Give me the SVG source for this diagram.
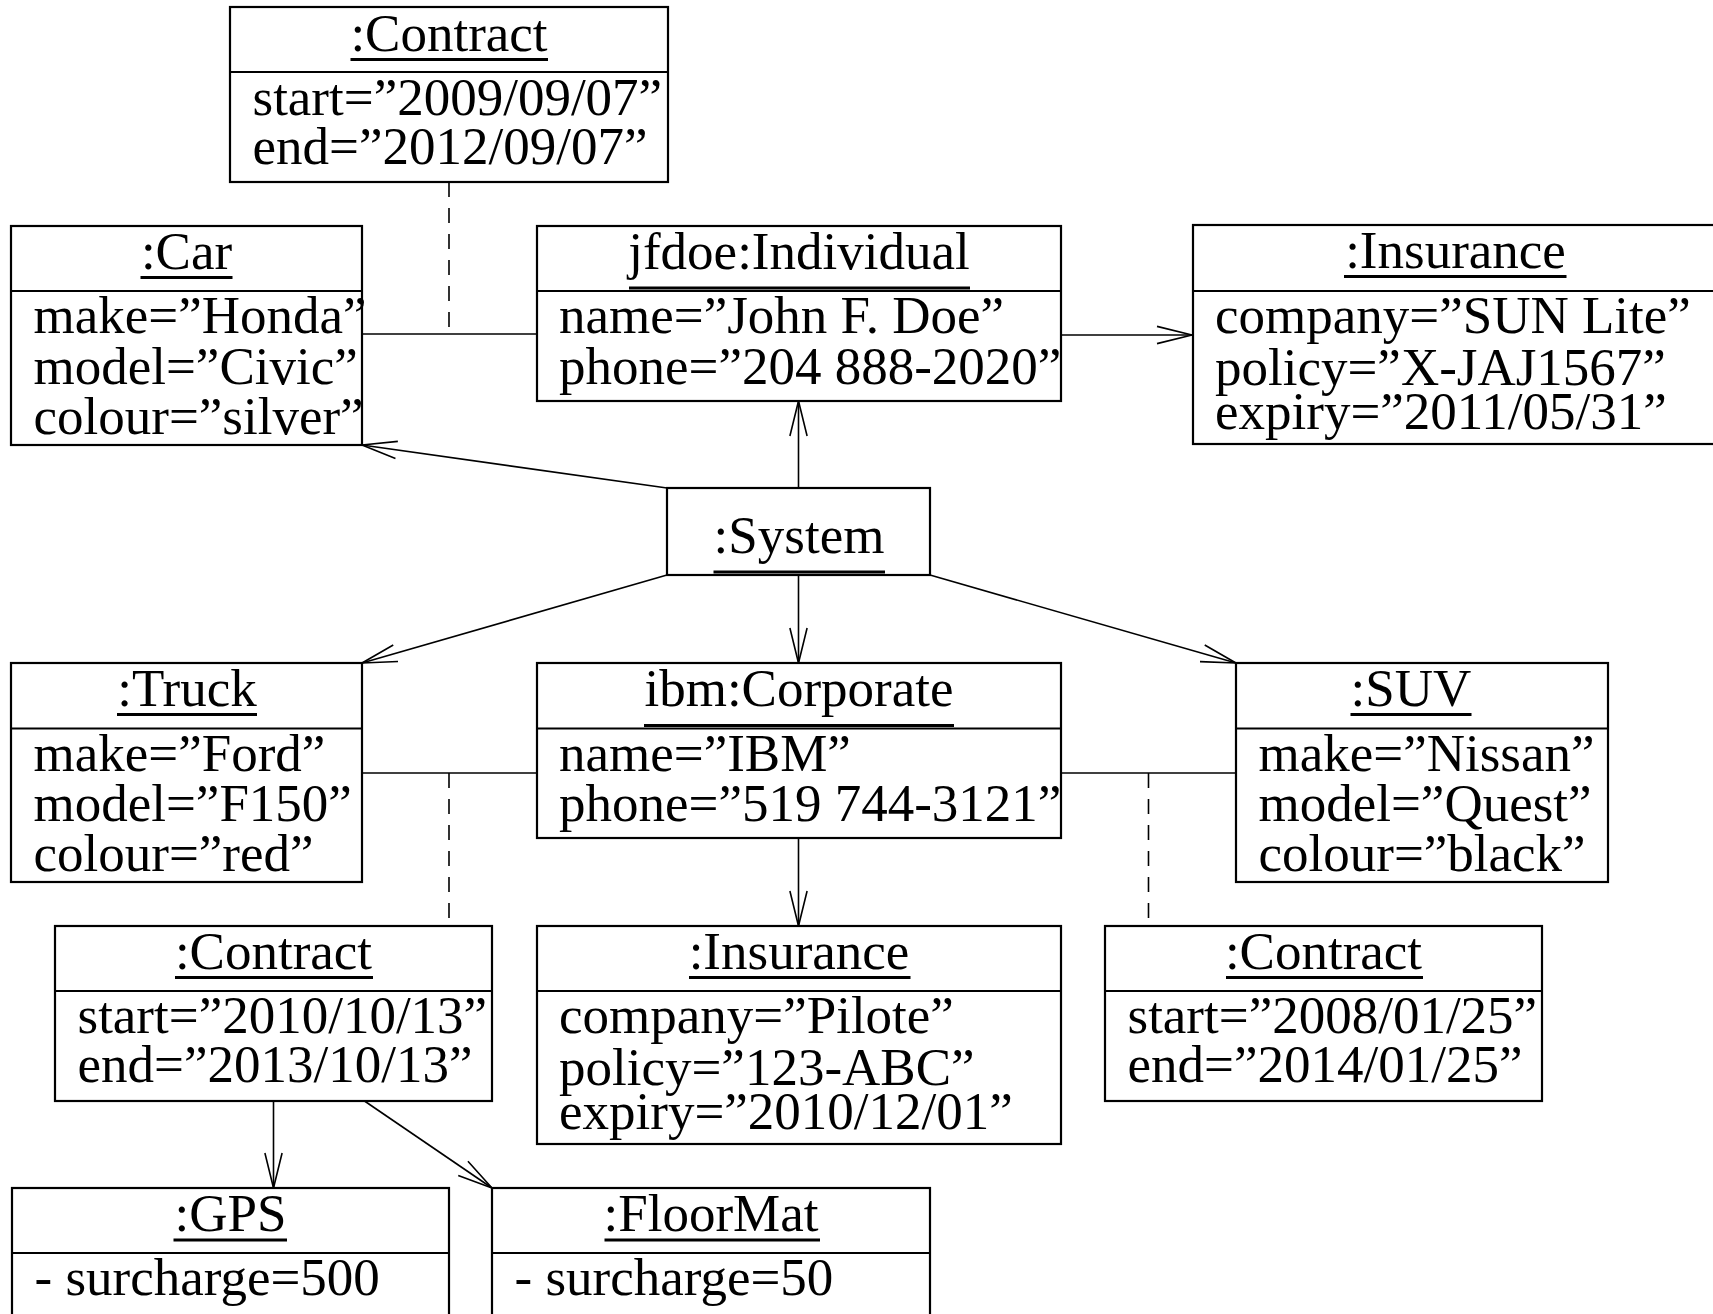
<svg xmlns="http://www.w3.org/2000/svg" width="1713" height="1314" viewBox="0 0 1713 1314">
  <style>
    .box { fill: #fff; stroke: #000; stroke-width: 2.2; }
    .div { stroke: #000; stroke-width: 2.2; }
    .ul { stroke: #000; stroke-width: 3.2; }
    .t { font-family: "Liberation Serif", "Times New Roman", serif; font-size: 53px; fill: #000; }
    .c { text-anchor: middle; }
    .ln { stroke: #000; stroke-width: 1.6; fill: none; }
    .dash { stroke: #000; stroke-width: 1.6; fill: none; stroke-dasharray: 15 11; }
    .arr { stroke: #000; stroke-width: 1.6; fill: none; marker-end: url(#open); }
  </style>
  <defs>
    <marker id="open" viewBox="-40 -12 44 24" refX="0" refY="0" markerWidth="44" markerHeight="24" markerUnits="userSpaceOnUse" orient="auto">
      <path d="M-35,-8.6 L0,0 L-35,8.6" fill="none" stroke="#000" stroke-width="1.6"/>
    </marker>
  </defs>
  <rect width="1713" height="1314" fill="#fff"/>

  <!-- links between objects -->
  <g id="connectors">
    <line class="ln" x1="362" y1="334" x2="537" y2="334"/>
    <line class="dash" x1="449" y1="182" x2="449" y2="334"/>
    <line class="arr" x1="1061" y1="335" x2="1192" y2="335"/>
    <line class="arr" x1="798.5" y1="488" x2="798.5" y2="401"/>
    <line class="arr" x1="667" y1="488" x2="362" y2="445"/>
    <line class="arr" x1="667" y1="575" x2="362" y2="663"/>
    <line class="arr" x1="798.5" y1="575" x2="798.5" y2="663"/>
    <line class="arr" x1="930" y1="575" x2="1236" y2="663"/>
    <line class="ln" x1="362" y1="773" x2="537" y2="773"/>
    <line class="dash" x1="449" y1="773" x2="449" y2="926"/>
    <line class="ln" x1="1061" y1="773" x2="1236" y2="773"/>
    <line class="dash" x1="1148.5" y1="773" x2="1148.5" y2="926"/>
    <line class="arr" x1="798.5" y1="838" x2="798.5" y2="926"/>
    <line class="arr" x1="273.5" y1="1101" x2="273.5" y2="1188"/>
    <line class="arr" x1="364.5" y1="1101" x2="492" y2="1188"/>
  </g>

  <g id="contract-a">
    <rect class="box" x="230" y="7" width="438" height="175"/>
    <line class="div" x1="230" y1="72" x2="668" y2="72"/>
    <text class="t c" x="449" y="50.5">:Contract</text>
    <line class="ul" x1="350.5" y1="59.5" x2="548" y2="59.5"/>
    <text class="t" x="252.5" y="115">start=”2009/09/07”</text>
    <text class="t" x="252.5" y="164">end=”2012/09/07”</text>
  </g>

  <g id="car">
    <rect class="box" x="11" y="226" width="351" height="219"/>
    <line class="div" x1="11" y1="291" x2="362" y2="291"/>
    <text class="t c" x="186.5" y="268.5">:Car</text>
    <line class="ul" x1="140.5" y1="277.5" x2="232.5" y2="277.5"/>
    <text class="t" x="33.5" y="333">make=”Honda”</text>
    <text class="t" x="33.5" y="383.5">model=”Civic”</text>
    <text class="t" x="33.5" y="434">colour=”silver”</text>
  </g>

  <g id="individual">
    <rect class="box" x="537" y="226" width="524" height="175"/>
    <line class="div" x1="537" y1="291" x2="1061" y2="291"/>
    <text class="t c" x="799" y="268.5">jfdoe:Individual</text>
    <line class="ul" x1="629" y1="288" x2="970" y2="288"/>
    <text class="t" x="559" y="333">name=”John F. Doe”</text>
    <text class="t" x="559" y="384">phone=”204 888-2020”</text>
  </g>

  <g id="insurance-a">
    <rect class="box" x="1193" y="225" width="540" height="219"/>
    <line class="div" x1="1193" y1="291" x2="1733" y2="291"/>
    <text class="t c" x="1455.5" y="267.5">:Insurance</text>
    <line class="ul" x1="1344" y1="276.5" x2="1566.5" y2="276.5"/>
    <text class="t" x="1215" y="333">company=”SUN Lite”</text>
    <text class="t" x="1215" y="384.5">policy=”X-JAJ1567”</text>
    <text class="t" x="1215" y="428.5">expiry=”2011/05/31”</text>
  </g>

  <g id="system">
    <rect class="box" x="667" y="488" width="263" height="87"/>
    <text class="t c" x="799" y="553">:System</text>
    <line class="ul" x1="713.5" y1="572" x2="885" y2="572"/>
  </g>

  <g id="truck">
    <rect class="box" x="11" y="663" width="351" height="219"/>
    <line class="div" x1="11" y1="728.5" x2="362" y2="728.5"/>
    <text class="t c" x="187" y="705.5">:Truck</text>
    <line class="ul" x1="117" y1="714.5" x2="257" y2="714.5"/>
    <text class="t" x="33.5" y="770.5">make=”Ford”</text>
    <text class="t" x="33.5" y="821">model=”F150”</text>
    <text class="t" x="33.5" y="871">colour=”red”</text>
  </g>

  <g id="corporate">
    <rect class="box" x="537" y="663" width="524" height="175"/>
    <line class="div" x1="537" y1="728.5" x2="1061" y2="728.5"/>
    <text class="t c" x="799" y="705.5">ibm:Corporate</text>
    <line class="ul" x1="644" y1="725.5" x2="954" y2="725.5"/>
    <text class="t" x="559" y="770.5">name=”IBM”</text>
    <text class="t" x="559" y="821">phone=”519 744-3121”</text>
  </g>

  <g id="suv">
    <rect class="box" x="1236" y="663" width="372" height="219"/>
    <line class="div" x1="1236" y1="728.5" x2="1608" y2="728.5"/>
    <text class="t c" x="1411" y="705.5">:SUV</text>
    <line class="ul" x1="1350.5" y1="714.5" x2="1471.5" y2="714.5"/>
    <text class="t" x="1258.5" y="770.5">make=”Nissan”</text>
    <text class="t" x="1258.5" y="821">model=”Quest”</text>
    <text class="t" x="1258.5" y="871">colour=”black”</text>
  </g>

  <g id="contract-b">
    <rect class="box" x="55" y="926" width="437" height="175"/>
    <line class="div" x1="55" y1="991" x2="492" y2="991"/>
    <text class="t c" x="273.5" y="968.5">:Contract</text>
    <line class="ul" x1="175" y1="977.5" x2="373" y2="977.5"/>
    <text class="t" x="77.5" y="1033">start=”2010/10/13”</text>
    <text class="t" x="77.5" y="1082">end=”2013/10/13”</text>
  </g>

  <g id="insurance-b">
    <rect class="box" x="537" y="926" width="524" height="218"/>
    <line class="div" x1="537" y1="991" x2="1061" y2="991"/>
    <text class="t c" x="799" y="968.5">:Insurance</text>
    <line class="ul" x1="689" y1="977.5" x2="910.5" y2="977.5"/>
    <text class="t" x="559" y="1033">company=”Pilote”</text>
    <text class="t" x="559" y="1084.5">policy=”123-ABC”</text>
    <text class="t" x="559" y="1128.5">expiry=”2010/12/01”</text>
  </g>

  <g id="contract-c">
    <rect class="box" x="1105" y="926" width="437" height="175"/>
    <line class="div" x1="1105" y1="991" x2="1542" y2="991"/>
    <text class="t c" x="1323.5" y="968.5">:Contract</text>
    <line class="ul" x1="1226" y1="977.5" x2="1423" y2="977.5"/>
    <text class="t" x="1127.5" y="1033">start=”2008/01/25”</text>
    <text class="t" x="1127.5" y="1082">end=”2014/01/25”</text>
  </g>

  <g id="gps">
    <rect class="box" x="12" y="1188" width="437" height="150"/>
    <line class="div" x1="12" y1="1253" x2="449" y2="1253"/>
    <text class="t c" x="230.5" y="1230.5">:GPS</text>
    <line class="ul" x1="173.5" y1="1240" x2="287" y2="1240"/>
    <text class="t" x="34.5" y="1295">- surcharge=500</text>
  </g>

  <g id="floormat">
    <rect class="box" x="492" y="1188" width="438" height="150"/>
    <line class="div" x1="492" y1="1253" x2="930" y2="1253"/>
    <text class="t c" x="711" y="1230.5">:FloorMat</text>
    <line class="ul" x1="604.5" y1="1240" x2="820" y2="1240"/>
    <text class="t" x="514.5" y="1295">- surcharge=50</text>
  </g>
</svg>
